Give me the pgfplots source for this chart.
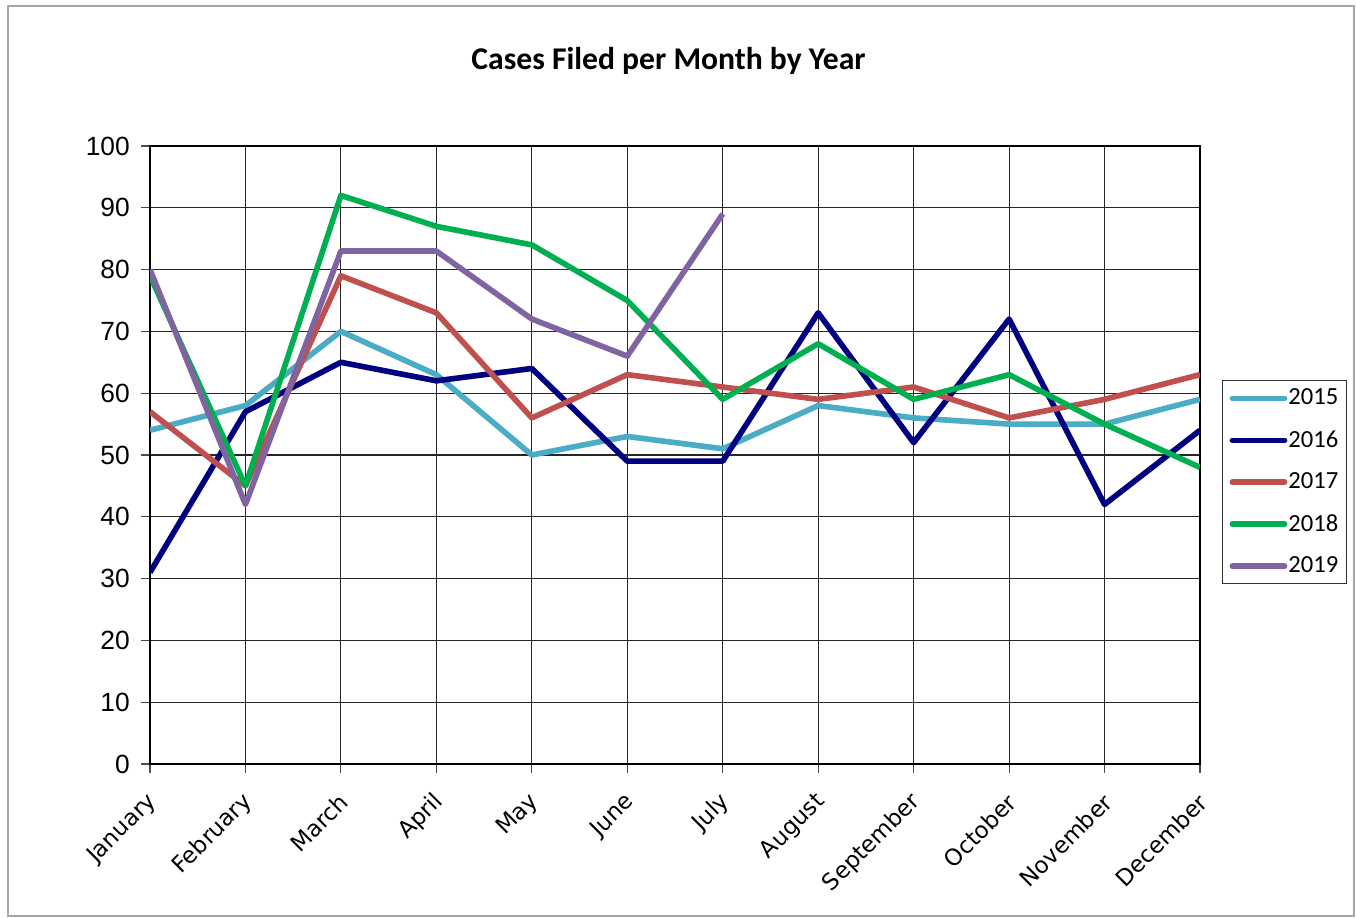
\documentclass[border=0pt]{standalone}
\usepackage{pgfplots}
\pgfplotsset{compat=1.18}
\usepackage{fontspec}
\setmainfont{Carlito}
\newfontfamily\ytfont{Liberation Sans}
\newfontfamily\xtfont{DejaVu Sans}
\definecolor{c15}{HTML}{4BACC6}
\definecolor{c16}{HTML}{000080}
\definecolor{c17}{HTML}{C0504D}
\definecolor{c18}{HTML}{00B050}
\definecolor{c19}{HTML}{8064A2}
\pgfplotstableread{
m y15 y16 y17 y18
0 54 31 57 79
1 58 57 45 45
2 70 65 79 92
3 63 62 73 87
4 50 64 56 84
5 53 49 63 75
6 51 49 61 59
7 58 73 59 68
8 56 52 61 59
9 55 72 56 63
10 55 42 59 55
11 59 54 63 48
}\datatab
\pgfplotstableread{
m y19
0 80
1 42
2 83
3 83
4 72
5 66
6 89
}\datanineteen
\begin{document}
\begin{tikzpicture}
\useasboundingbox (0,0) rectangle (27.12cm,18.36cm);
\draw[gray!70, line width=0.6pt] (0.16cm,0.04cm) rectangle (27.08cm,18.24cm);
\node[font=\bfseries\fontsize{18}{21}\selectfont] at (13.37cm,17.15cm) {Cases Filed per Month by Year};
\begin{axis}[
  at={(3cm,3.08cm)}, anchor=south west,
  scale only axis, width=21cm, height=12.36cm,
  xmin=0, xmax=11, ymin=0, ymax=100,
  xtick={0,...,11},
  xticklabels={January,February,March,April,May,June,July,August,September,October,November,December},
  ytick={0,10,...,100},
  grid=major,
  major grid style={black!85, line width=0.6pt},
  axis line style={black, line width=1.3pt},
  tick pos=left, tick align=outside,
  major tick length=0.18cm,
  tick style={black!70, line width=0.6pt},
  /pgf/number format/assume math mode=true,
  yticklabel style={font=\ytfont\fontsize{15}{17}\selectfont, xshift=-0.1cm},
  xticklabel style={font=\xtfont\fontsize{13}{15}\selectfont, xshift=0.15cm, yshift=-0.42cm, rotate=45, anchor=east},
  legend style={at={(1.021,0.456)}, anchor=west, draw=black!80, line width=0.6pt,
    font=\fontsize{14}{16}\selectfont, row sep=0.42cm, inner sep=0.14cm,
    nodes={inner sep=0.02cm}},
  legend cell align=left,
  legend image code/.code={\draw[#1, line width=3pt, line cap=round] (0cm,0cm) -- (1.05cm,0cm);},
  every axis plot/.append style={line width=3.2pt, line join=round},
]
\addplot[c15] table[x=m, y=y15] {\datatab};
\addlegendentry{2015}
\addplot[c16] table[x=m, y=y16] {\datatab};
\addlegendentry{2016}
\addplot[c17] table[x=m, y=y17] {\datatab};
\addlegendentry{2017}
\addplot[c18] table[x=m, y=y18] {\datatab};
\addlegendentry{2018}
\addplot[c19] table[x=m, y=y19] {\datanineteen};
\addlegendentry{2019}
\end{axis}
\end{tikzpicture}
\end{document}
